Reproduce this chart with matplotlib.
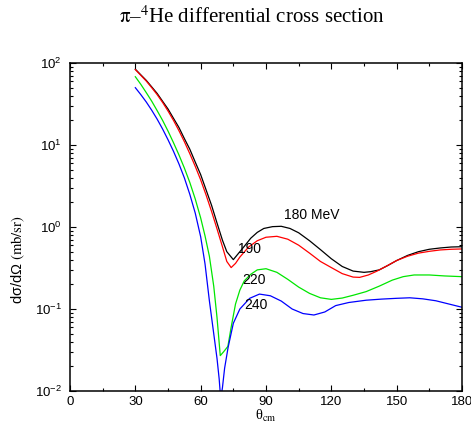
import matplotlib.pyplot as plt
from matplotlib.ticker import MultipleLocator, LogLocator, NullFormatter

plt.rcParams['font.family'] = ['Liberation Sans', 'DejaVu Sans']
plt.rcParams['mathtext.fontset'] = 'stix'

# Data
theta_180 = [30, 32.5, 35, 37.5, 40, 42.5, 45, 47.5, 50, 52.5, 55, 57.5, 60, 62.5, 65, 67.5,
             70, 72, 75, 78, 80, 83, 86, 89, 93, 97, 101, 105, 110, 115, 120, 125, 130, 135,
             138, 142, 146, 150, 155, 160, 165, 170, 175, 180]
xs_180 = [84, 71.8, 61.5, 51.2, 42.6, 34.2, 27.5, 21.2, 16.4, 12.0, 8.9, 6.2, 4.35, 2.83,
          1.84, 1.12, 0.69, 0.50, 0.40, 0.50, 0.58, 0.73, 0.86, 0.96, 1.01, 1.02, 0.96, 0.85,
          0.68, 0.53, 0.41, 0.33, 0.29, 0.28, 0.285, 0.30, 0.34, 0.39, 0.45, 0.50, 0.535,
          0.555, 0.57, 0.575]

theta_190 = [30, 32.5, 35, 37.5, 40, 42.5, 45, 47.5, 50, 52.5, 55, 57.5, 60, 62.5, 65, 67.5,
             70, 72, 74, 76, 78, 82, 86, 90, 95, 100, 105, 110, 115, 120, 125, 130, 133, 137,
             141, 145, 150, 155, 160, 165, 170, 175, 180]
xs_190 = [83, 70.8, 60.3, 50.1, 41.2, 33.1, 26.0, 20.0, 15.0, 11.0, 7.85, 5.5, 3.76, 2.45,
          1.55, 0.95, 0.575, 0.38, 0.32, 0.36, 0.43, 0.57, 0.68, 0.75, 0.77, 0.71, 0.60,
          0.48, 0.38, 0.32, 0.27, 0.245, 0.243, 0.26, 0.29, 0.33, 0.39, 0.44, 0.48, 0.505,
          0.525, 0.535, 0.54]

theta_220 = [30, 32.5, 35, 37.5, 40, 42.5, 45, 47.5, 50, 52.5, 55, 57.5, 60, 62, 64, 66, 67.5,
             69, 70.5, 72.5, 74, 76, 78, 80, 83, 86, 90, 95, 100, 105, 110, 115, 120, 125,
             130, 136, 142, 148, 153, 158, 165, 172, 180]
xs_220 = [68, 55, 43.6, 34.3, 26.3, 20.0, 14.8, 10.7, 7.6, 5.25, 3.5, 2.2, 1.29, 0.78, 0.44,
          0.19, 0.079, 0.027, 0.030, 0.035, 0.06, 0.115, 0.17, 0.22, 0.265, 0.30, 0.31,
          0.28, 0.23, 0.185, 0.155, 0.137, 0.131, 0.136, 0.147, 0.163, 0.19, 0.225, 0.248,
          0.26, 0.26, 0.253, 0.248]

theta_240 = [30, 32.5, 35, 37.5, 40, 42.5, 45, 47.5, 50, 52.5, 55, 57.5, 60, 62, 64, 66, 67.5,
             68.5, 69.2, 70, 71, 72.6, 75, 78, 82.5, 87, 92, 97, 102, 107, 112, 117, 122, 128,
             136, 143, 150, 156, 162, 168, 174, 180]
xs_240 = [50, 41.2, 33.5, 26.6, 20.7, 15.7, 11.6, 8.4, 5.9, 3.98, 2.51, 1.48, 0.76, 0.355,
          0.126, 0.050, 0.025, 0.014, 0.008, 0.011, 0.019, 0.034, 0.067, 0.100, 0.135,
          0.152, 0.145, 0.125, 0.100, 0.088, 0.0845, 0.092, 0.11, 0.12, 0.128, 0.132, 0.135,
          0.137, 0.133, 0.126, 0.115, 0.105]

fig = plt.figure(figsize=(4.71, 4.32), dpi=100)
ax = fig.add_axes([70 / 471, 41 / 432, 392 / 471, 328 / 432])

ax.plot(theta_180, xs_180, color='black', lw=0.9)
ax.plot(theta_190, xs_190, color='#ff0000', lw=0.9)
ax.plot(theta_220, xs_220, color='#00e600', lw=0.9)
ax.plot(theta_240, xs_240, color='#0000ff', lw=0.9)

ax.set_yscale('log')
ax.set_xlim(0, 180)
ax.set_ylim(1e-2, 1e2)
ax.xaxis.set_major_locator(MultipleLocator(30))
ax.xaxis.set_minor_locator(MultipleLocator(15))
ax.yaxis.set_major_locator(LogLocator(base=10, numticks=10))
ax.yaxis.set_minor_locator(LogLocator(base=10, subs=range(2, 10), numticks=10))
ax.yaxis.set_minor_formatter(NullFormatter())
ax.tick_params(which='both', direction='in', top=True, right=True, labelsize=9.5)
ax.tick_params(which='major', length=4, width=0.8)
ax.tick_params(which='minor', length=2, width=0.8)
ax.tick_params(axis='y', pad=6)
for s in ax.spines.values():
    s.set_linewidth(1.1)

# Curve labels
ax.text(111, 1.4, '180 MeV', fontsize=10, ha='center', va='center')
ax.text(82.6, 0.54, '190', fontsize=10, ha='center', va='center')
ax.text(84.5, 0.226, '220', fontsize=10, ha='center', va='center')
ax.text(85.4, 0.112, '240', fontsize=10, ha='center', va='center')

ax.set_xlabel('θ$_{\\mathrm{cm}}$', fontsize=10.5, family='Liberation Serif')
ax.set_ylabel('dσ/dΩ $\\mathrm{(mb/sr)}$', fontsize=10.5)
ax.yaxis.set_label_coords(-0.11, 0.4)
ax.xaxis.set_label_coords(0.5, -0.05)

fig.text(252 / 471, 1 - 17 / 432, r'$\mathrm{\pi}$–$^{4}$He differential cross section',
         ha='center', va='center', fontsize=15, family='Liberation Serif')

fig.savefig('out.png', dpi=100)
